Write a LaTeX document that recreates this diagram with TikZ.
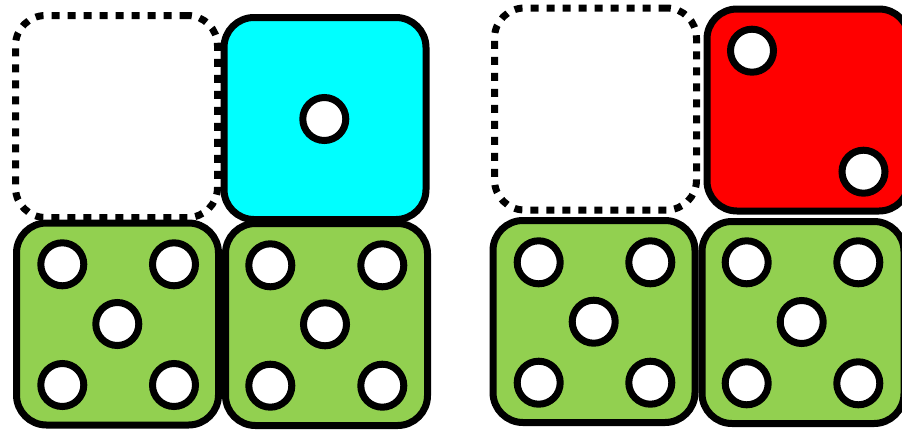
\documentclass[tikz,border=0pt]{standalone}
\definecolor{diegreen}{HTML}{92D050}
\definecolor{diecyan}{HTML}{00FFFF}
\definecolor{diered}{HTML}{FF0000}
\tikzset{
  die/.style={draw=black, line width=7pt, rounded corners=30pt, minimum width=202pt, minimum height=202pt, inner sep=0pt, outer sep=0pt},
  emptydie/.style={die, fill=white, dash pattern=on 8pt off 8pt},
  pip/.style={circle, draw=black, fill=white, line width=7pt, minimum size=43pt, inner sep=0pt}
}
\begin{document}
\begin{tikzpicture}[x=1pt,y=-1pt]
\useasboundingbox (0,0) rectangle (902,429);
\clip (0,0) rectangle (902,429);
% left group
\node[emptydie] (e1) at (116.5,116.5) {};
\node[die, fill=diecyan] (c1) at (325,118.5) {};
\node[die, fill=diegreen] (g1) at (117.5,324) {};
\node[die, fill=diegreen] (g2) at (326.5,324.5) {};
\node[pip] (c1p) at (324.3,119) {};
\node[pip] (g1a) at (62.3,264.3) {};
\node[pip] (g1b) at (174,264.3) {};
\node[pip] (g1c) at (117.3,324) {};
\node[pip] (g1d) at (62.3,385) {};
\node[pip] (g1e) at (174,385) {};
\node[pip] (g2a) at (270.3,265.3) {};
\node[pip] (g2b) at (382.3,265.3) {};
\node[pip] (g2c) at (325,324.3) {};
\node[pip] (g2d) at (270.3,385.7) {};
\node[pip] (g2e) at (382.3,385.7) {};
% right group
\node[emptydie] (e2) at (595.5,109) {};
\node[die, fill=diered] (r1) at (808,110) {};
\node[die, fill=diegreen] (g3) at (594,321.5) {};
\node[die, fill=diegreen] (g4) at (803,322.5) {};
\node[pip] (r1a) at (752,50.7) {};
\node[pip] (r1b) at (863.5,171.7) {};
\node[pip] (g3a) at (538.7,262.3) {};
\node[pip] (g3b) at (650.3,262.3) {};
\node[pip] (g3c) at (593.7,321.7) {};
\node[pip] (g3d) at (538.7,382.7) {};
\node[pip] (g3e) at (650.3,382.7) {};
\node[pip] (g4a) at (746.7,262.3) {};
\node[pip] (g4b) at (858.3,262.3) {};
\node[pip] (g4c) at (801.7,322) {};
\node[pip] (g4d) at (746.7,383.3) {};
\node[pip] (g4e) at (858.3,383.3) {};
\end{tikzpicture}
\end{document}
